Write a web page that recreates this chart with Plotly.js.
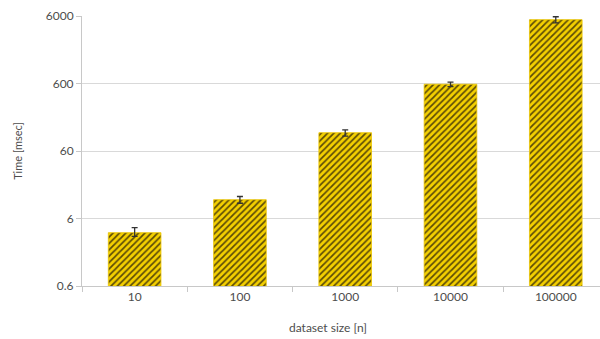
<!DOCTYPE html>
<html>
<head>
<meta charset="utf-8">
<script src="https://cdn.plot.ly/plotly-3.0.1.min.js"></script>
<style>
  html, body { margin: 0; padding: 0; background: #fff; }
  #chart { width: 600px; height: 339px; }
</style>
</head>
<body>
<div id="chart"></div>
<script>
// Benchmark timings per dataset size (log scale)
const sizes = ["10", "100", "1000", "10000", "100000"];
const timeMs = [3.7, 11.4, 112, 585, 5300];
const errPlus = [0.7, 1.3, 11, 45, 550];
const errMinus = [0.45, 1.3, 12, 45, 550];
const yTickVals = [0.6, 6, 60, 600, 6000];
const yTickText = ["0.6", "6", "60", "600", "6000"];

const font = "Lato, 'Open Sans', sans-serif";

const trace = {
  type: "bar",
  x: sizes,
  y: timeMs,
  width: 0.5,
  marker: {
    color: "#f2cc00",
    line: { color: "#eac400", width: 0.8 },
    pattern: { shape: "/", fgcolor: "#5a4a08", bgcolor: "#f4d000", size: 4.5, solidity: 0.38 }
  },
  error_y: {
    type: "data",
    symmetric: false,
    array: errPlus,
    arrayminus: errMinus,
    color: "#333333",
    thickness: 1.3,
    width: 3
  },
  hoverinfo: "skip"
};

const layout = {
  width: 600,
  height: 339,
  margin: { l: 82, r: 0, t: 16, b: 53 },
  paper_bgcolor: "#ffffff",
  plot_bgcolor: "#ffffff",
  showlegend: false,
  font: { family: font, size: 12, color: "#555555" },
  xaxis: {
    type: "category",
    range: [-0.5, 4.42],
    tickson: "boundaries",
    ticks: "outside",
    ticklen: 5,
    tickcolor: "#c8c8c8",
    showgrid: false,
    showline: true,
    linecolor: "#c8c8c8",
    linewidth: 1,
    tickfont: { family: font, size: 12, color: "#4d4d4d" },
    fixedrange: true
  },
  yaxis: {
    type: "log",
    range: [Math.log10(0.6), Math.log10(6000)],
    tickvals: yTickVals,
    ticktext: yTickText,
    ticks: "outside",
    ticklen: 5,
    tickcolor: "#c8c8c8",
    showgrid: true,
    gridcolor: "#d9d9d9",
    gridwidth: 1,
    showline: true,
    linecolor: "#c8c8c8",
    linewidth: 1,
    zeroline: false,
    tickfont: { family: font, size: 12, color: "#4d4d4d" },
    title: { text: "Time [msec]", font: { family: font, size: 11, color: "#4d4d4d" }, standoff: 20 },
    fixedrange: true
  },
  annotations: [{
    text: "dataset size [n]",
    xref: "paper", yref: "paper",
    x: 0.475, y: 0, yshift: -41,
    xanchor: "center", yanchor: "middle",
    showarrow: false,
    font: { family: font, size: 12, color: "#4d4d4d" }
  }]
};

Plotly.newPlot("chart", [trace], layout, { displayModeBar: false, staticPlot: true });
</script>
</body>
</html>
